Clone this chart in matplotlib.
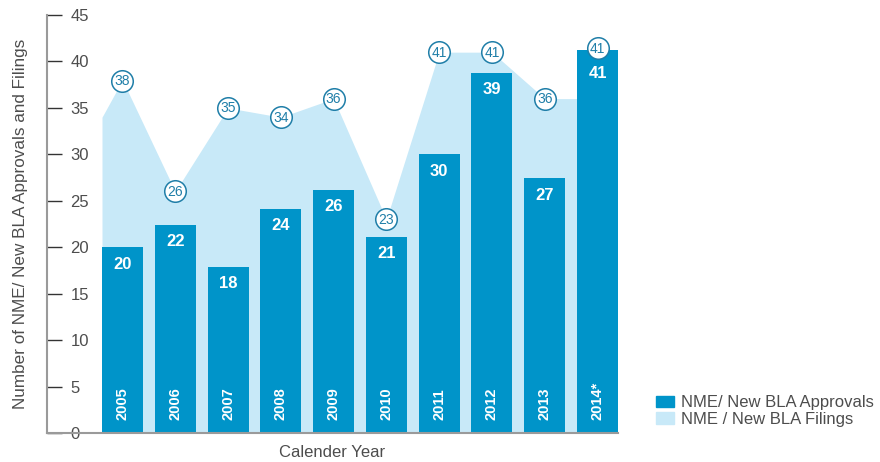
import matplotlib.pyplot as plt
import numpy as np
from matplotlib.patches import Patch

plt.rcParams['font.family'] = ['Liberation Sans', 'DejaVu Sans']

# data
years = ['2005', '2006', '2007', '2008', '2009', '2010', '2011', '2012', '2013', '2014*']
approvals = [20.0, 22.4, 17.9, 24.1, 26.2, 21.1, 30.0, 38.8, 27.4, 41.2]
approval_labels = [20, 22, 18, 24, 26, 21, 30, 39, 27, 41]
filings = [38, 26, 35, 34, 36, 23, 41, 41, 36, 41]
filings_marker_y = [37.9, 26.0, 35.0, 34.0, 36.0, 23.0, 41.0, 41.0, 36.0, 41.4]
# area outline: starts at left edge of first bar, flat after 2013 to 2014 bar
area_start = 34
area_2013_flat = 36

bar_color = '#0094c9'
area_color = '#c8e9f8'
circle_edge = '#1f7ea8'
text_grey = '#4d4d4d'

fig = plt.figure(figsize=(8.8, 4.62), dpi=100)
ax = fig.add_axes([47 / 880, 29 / 462, 571 / 880, 418 / 462])

x = np.arange(len(years))
w = 0.776

# filings area
ax_x = np.concatenate([[-w / 2], x[:9], [8 + (1 - w / 2)], [9]])
ax_y = np.concatenate([[area_start], filings[:9], [area_2013_flat], [filings[9]]])
ax.fill_between(ax_x, 0, ax_y, color=area_color, lw=0, zorder=1)

# approvals bars
ax.bar(x, approvals, width=w, color=bar_color, zorder=2)

for i in range(len(years)):
    # last label sits a little lower because of the circle above it
    off = 1.7 if i == len(years) - 1 else 1.0
    ax.text(x[i], approvals[i] - off, str(approval_labels[i]), ha='center', va='top',
            color='white', fontsize=12, fontweight='semibold', zorder=4)
    ax.text(x[i], 1.4, years[i], ha='center', va='bottom', rotation=90,
            color='white', fontsize=10.5, fontweight='semibold', zorder=4)

# filing markers
ax.plot(x, filings_marker_y, ls='none', marker='o', markersize=15.5,
        markerfacecolor='white', markeredgecolor=circle_edge, markeredgewidth=1.1, zorder=5)
for i in range(len(years)):
    ax.text(x[i], filings_marker_y[i] - 0.05, str(filings[i]), ha='center', va='center',
            color=circle_edge, fontsize=10, zorder=6)

ax.set_xlim(-1.43, 9 + w / 2)
ax.set_ylim(0, 45)
ax.set_yticks(range(0, 46, 5))
ax.set_xticks([])

for s in ['top', 'right']:
    ax.spines[s].set_visible(False)
for s in ['left', 'bottom']:
    ax.spines[s].set_color('#9a9a9a')
    ax.spines[s].set_linewidth(1.5)
ax.spines['left'].set_zorder(7)

ax.tick_params(axis='y', direction='in', length=11, width=1, color='#333333',
               pad=-17, labelsize=12, labelcolor=text_grey)
for lbl in ax.get_yticklabels():
    lbl.set_horizontalalignment('left')

ax.set_ylabel('Number of NME/ New BLA Approvals and Filings', fontsize=12.3, color=text_grey)
ax.set_xlabel('Calender Year', fontsize=12, color=text_grey)
ax.yaxis.set_label_coords(-19 / 571, 0.5)
ax.xaxis.set_label_coords(0.5, -12 / 418)
ax.xaxis.label.set_va('top')

handles = [Patch(color=bar_color, label='NME/ New BLA Approvals'),
           Patch(color=area_color, label='NME / New BLA Filings')]
fig.legend(handles=handles, loc='lower left', bbox_to_anchor=(641 / 880, 20 / 462),
           frameon=False, fontsize=12, handlelength=1.1, handleheight=0.7,
           handletextpad=0.4, labelspacing=0.1, labelcolor=text_grey)

plt.savefig('out.png', dpi=100)
